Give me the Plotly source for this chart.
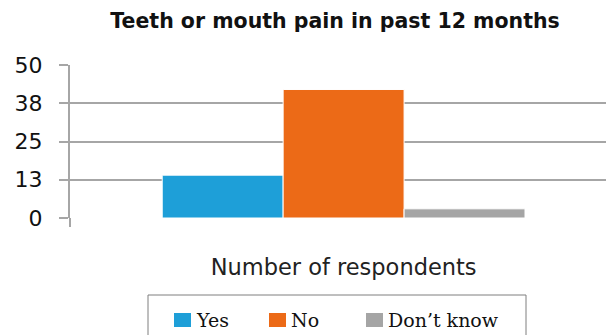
import plotly.graph_objects as go

# Survey responses
categories = ["Number of respondents"]
answers = ["Yes", "No", "Don\u2019t know"]
counts = [14, 42, 3]
colors = ["#1E9FD8", "#EC6A17", "#A5A5A5"]

y_ticks = [0, 12.5, 25, 37.5, 50]
y_tick_text = ["0", "13", "25", "38", "50"]

fig = go.Figure()
for name, val, col in zip(answers, counts, colors):
    fig.add_trace(go.Bar(
        x=categories, y=[val], name=name, showlegend=False,
        marker=dict(color=col, line=dict(color="white", width=1)),
    ))

W, H = 606, 335
ml, mr, mt, mb = 70, 0, 65, 117
pw, ph = W - ml - mr, H - mt - mb


def px_x(x):
    """Pixel column -> paper x."""
    return (x - ml) / pw


def px_y(y):
    """Pixel row -> paper y."""
    return (H - mb - y) / ph


fig.update_layout(
    width=W, height=H,
    margin=dict(l=ml, r=mr, t=mt, b=mb, autoexpand=False),
    paper_bgcolor="white", plot_bgcolor="white",
    barmode="group", bargap=0.337, bargroupgap=0,
    showlegend=False,
    title=dict(
        text="<b>Teeth or mouth pain in past 12 months</b>",
        font=dict(family="DejaVu Sans", size=20.5, color="#111111"),
        x=335 / W, xref="container", xanchor="center",
        y=1 - 21 / H, yref="container", yanchor="middle",
    ),
    xaxis=dict(
        type="category", range=[-0.5, 0.4795],
        showgrid=False, showline=False, zeroline=False, ticks="",
        tickfont=dict(family="DejaVu Sans", size=22.5, color="#222222"),
        ticklabelstandoff=33,
    ),
    yaxis=dict(
        range=[0, 50], tickvals=y_ticks, ticktext=y_tick_text,
        showgrid=True, gridcolor="#A6A6A6", gridwidth=2,
        zeroline=False,
        showline=True, linecolor="#A6A6A6", linewidth=2,
        ticks="outside", ticklen=9, tickcolor="#A6A6A6", tickwidth=2,
        tickfont=dict(family="DejaVu Sans", size=22, color="#111111"),
        ticklabelstandoff=12,
    ),
)

# Legend: frame, swatches and labels
legend_top = 295
fig.add_shape(type="rect", xref="paper", yref="paper",
              x0=px_x(148), x1=px_x(526), y0=px_y(legend_top), y1=px_y(350),
              line=dict(color="#7F7F7F", width=1), fillcolor="rgba(0,0,0,0)")

swatch_left = [174, 269, 366]
for name, col, sx in zip(answers, colors, swatch_left):
    fig.add_shape(type="rect", xref="paper", yref="paper",
                  x0=px_x(sx), x1=px_x(sx + 17), y0=px_y(313), y1=px_y(327),
                  line=dict(width=0), fillcolor=col)
    fig.add_annotation(text=name, xref="paper", yref="paper",
                       x=px_x(sx + 20), y=px_y(320),
                       xanchor="left", yanchor="middle", showarrow=False,
                       font=dict(family="DejaVu Serif", size=19, color="#111111"))

# Category-boundary tick at the left end of the horizontal axis
fig.add_shape(type="line", xref="paper", yref="paper",
              x0=0, x1=0, y0=0, y1=px_y(H - mb + 9),
              line=dict(color="#A6A6A6", width=2))

fig.write_html("out.html")
